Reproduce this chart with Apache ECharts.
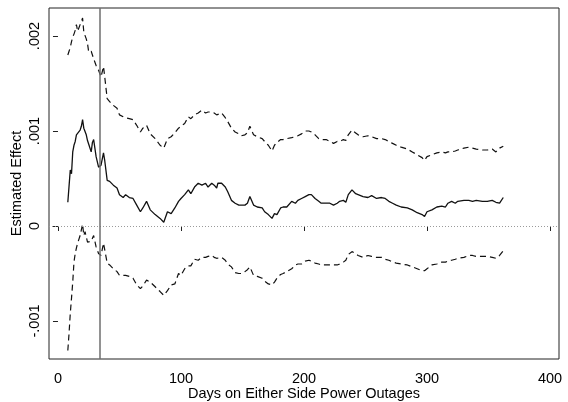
<!DOCTYPE html>
<html>
<head>
<meta charset="utf-8">
<script src="https://cdn.jsdelivr.net/npm/echarts@6/dist/echarts.min.js"></script>
<style>
  html, body { margin: 0; padding: 0; background: #fff; }
  #chart { width: 568px; height: 402px; }
</style>
</head>
<body>
<div id="chart"></div>
<script>
// Days on either side of the outage
const days = [
  8, 9, 10, 11, 12, 13, 14, 15, 16, 18,
  19, 20, 21, 22, 23, 24, 25, 27, 28, 29,
  31, 33, 35, 37, 38, 40, 42, 45, 48, 50,
  53, 55, 58, 61, 64, 67, 69, 72, 75, 79,
  83, 86, 89, 92, 95, 98, 100, 103, 106, 108,
  111, 114, 117, 120, 122, 125, 127, 129, 130, 133,
  136, 138, 141, 144, 147, 149, 152, 154, 156, 159,
  162, 166, 168, 171, 174, 176, 178, 181, 183, 186,
  190, 193, 195, 198, 201, 204, 206, 209, 212, 214,
  218, 221, 224, 227, 229, 232, 234, 236, 239, 242,
  244, 248, 252, 255, 259, 263, 266, 269, 272, 275,
  279, 284, 288, 292, 296, 298, 300, 304, 308, 312,
  315, 317, 320, 323, 325, 330, 334, 337, 340, 345,
  349, 353, 356, 359, 362
];

// Point estimate (thousandths)
const estimate = [
  0.25, 0.42, 0.59, 0.55, 0.78, 0.85, 0.89, 0.96, 0.94, 1.01,
  1.05, 1.12, 1.03, 1.05, 0.96, 0.90, 0.86, 0.78, 0.88, 0.91,
  0.73, 0.62, 0.64, 0.77, 0.69, 0.48, 0.47, 0.43, 0.40, 0.33,
  0.30, 0.33, 0.30, 0.29, 0.22, 0.15, 0.19, 0.26, 0.17, 0.12,
  0.08, 0.04, 0.15, 0.13, 0.19, 0.26, 0.29, 0.33, 0.38, 0.34,
  0.41, 0.45, 0.43, 0.45, 0.41, 0.45, 0.43, 0.40, 0.45, 0.45,
  0.41, 0.36, 0.27, 0.24, 0.22, 0.22, 0.22, 0.24, 0.31, 0.22,
  0.20, 0.19, 0.15, 0.12, 0.08, 0.13, 0.12, 0.19, 0.20, 0.20,
  0.26, 0.24, 0.27, 0.29, 0.31, 0.33, 0.33, 0.29, 0.26, 0.24,
  0.24, 0.24, 0.22, 0.24, 0.26, 0.27, 0.25, 0.33, 0.38, 0.34,
  0.33, 0.31, 0.30, 0.32, 0.29, 0.30, 0.29, 0.26, 0.24, 0.22,
  0.20, 0.19, 0.17, 0.14, 0.12, 0.10, 0.15, 0.17, 0.20, 0.21,
  0.20, 0.24, 0.26, 0.24, 0.26, 0.27, 0.27, 0.26, 0.27, 0.26,
  0.26, 0.27, 0.25, 0.24, 0.30
];

// Upper confidence bound (thousandths)
const upper = [
  1.80, 1.84, 1.88, 1.94, 1.99, 2.02, 2.06, 2.12, 2.05, 2.12,
  2.15, 2.19, 2.04, 2.06, 1.97, 1.92, 1.83, 1.84, 1.80, 1.76,
  1.69, 1.64, 1.57, 1.68, 1.57, 1.34, 1.31, 1.27, 1.24, 1.17,
  1.15, 1.14, 1.13, 1.12, 1.06, 0.99, 1.03, 1.06, 0.97, 0.92,
  0.85, 0.82, 0.92, 0.94, 0.98, 1.03, 1.05, 1.08, 1.15, 1.13,
  1.17, 1.19, 1.22, 1.19, 1.20, 1.20, 1.19, 1.17, 1.19, 1.19,
  1.14, 1.10, 1.03, 0.99, 0.97, 0.95, 0.96, 0.98, 1.05, 0.96,
  0.94, 0.92, 0.89, 0.85, 0.79, 0.85, 0.88, 0.91, 0.91, 0.92,
  0.93, 0.94, 0.95, 0.97, 1.00, 1.00, 0.99, 0.96, 0.92, 0.91,
  0.91, 0.89, 0.87, 0.89, 0.89, 0.91, 0.90, 0.96, 1.01, 0.98,
  0.96, 0.94, 0.95, 0.94, 0.92, 0.92, 0.91, 0.89, 0.87, 0.85,
  0.83, 0.81, 0.78, 0.75, 0.72, 0.69, 0.73, 0.75, 0.77, 0.78,
  0.77, 0.78, 0.78, 0.79, 0.80, 0.82, 0.83, 0.82, 0.81, 0.80,
  0.80, 0.81, 0.78, 0.82, 0.84
];

// Lower confidence bound (thousandths)
const lower = [
  -1.31, -1.13, -0.92, -0.76, -0.59, -0.38, -0.29, -0.23, -0.18, -0.10,
  -0.04, 0.02, -0.10, -0.06, -0.04, -0.17, -0.18, -0.16, -0.13, -0.10,
  -0.22, -0.29, -0.31, -0.18, -0.19, -0.39, -0.41, -0.45, -0.48, -0.52,
  -0.52, -0.52, -0.53, -0.55, -0.62, -0.66, -0.63, -0.57, -0.59, -0.64,
  -0.69, -0.73, -0.68, -0.62, -0.61, -0.50, -0.52, -0.45, -0.42, -0.42,
  -0.35, -0.36, -0.33, -0.33, -0.32, -0.31, -0.33, -0.34, -0.33, -0.33,
  -0.36, -0.40, -0.43, -0.49, -0.50, -0.50, -0.48, -0.46, -0.43, -0.52,
  -0.53, -0.55, -0.58, -0.61, -0.62, -0.59, -0.55, -0.51, -0.50, -0.48,
  -0.45, -0.41, -0.40, -0.40, -0.37, -0.36, -0.37, -0.39, -0.40, -0.41,
  -0.41, -0.41, -0.41, -0.41, -0.40, -0.38, -0.36, -0.30, -0.27, -0.29,
  -0.31, -0.33, -0.31, -0.32, -0.33, -0.33, -0.35, -0.36, -0.38, -0.39,
  -0.40, -0.41, -0.43, -0.45, -0.47, -0.47, -0.45, -0.41, -0.40, -0.38,
  -0.38, -0.37, -0.36, -0.35, -0.34, -0.33, -0.31, -0.31, -0.32, -0.32,
  -0.32, -0.33, -0.34, -0.31, -0.26
];

// Axis ticks
const xTicks = [0, 100, 200, 300, 400];
const yTicks = [-1, 0, 1, 2];
const yTickLabels = ['-.001', '0', '.001', '.002'];

// Reference lines
const cutoffDay = 34;
const zeroLine = 0;

const FONT = 'Liberation Sans, Arial, sans-serif';
const FS = 14.5;
const pairs = (ys) => days.map((d, i) => [d, ys[i]]);

const chart = echarts.init(document.getElementById('chart'), null, { renderer: 'canvas' });

chart.setOption({
  animation: false,
  backgroundColor: '#ffffff',
  grid: {
    left: 49, right: 9, top: 8, bottom: 43,
    containLabel: false,
    outerBoundsMode: 'none',
    show: true, borderColor: '#222', borderWidth: 1, backgroundColor: '#fff'
  },
  xAxis: {
    type: 'value',
    min: -7.3, max: 407.3,
    name: 'Days on Either Side Power Outages',
    nameLocation: 'middle',
    nameGap: 27,
    nameMoveOverlap: false,
    nameTextStyle: { fontFamily: FONT, fontSize: FS, color: '#000' },
    axisLine: { show: false },
    splitLine: { show: false },
    axisTick: { show: true, inside: false, length: 5, customValues: xTicks, lineStyle: { color: '#222', width: 1 } },
    axisLabel: { customValues: xTicks, margin: 12, fontFamily: FONT, fontSize: FS, color: '#000' }
  },
  yAxis: {
    type: 'value',
    min: -1.4, max: 2.295,
    name: 'Estimated Effect',
    nameLocation: 'middle',
    nameGap: 25,
    nameMoveOverlap: false,
    nameRotate: 90,
    nameTextStyle: { fontFamily: FONT, fontSize: FS, color: '#000' },
    axisLine: { show: false },
    splitLine: { show: false },
    axisTick: { show: true, inside: false, length: 5, customValues: yTicks, lineStyle: { color: '#222', width: 1 } },
    axisLabel: {
      customValues: yTicks,
      rotate: 90,
      margin: 7,
      fontFamily: FONT, fontSize: FS, color: '#000',
      formatter: (v) => {
        const i = yTicks.findIndex((t) => Math.abs(t - v) < 1e-9);
        return i >= 0 ? yTickLabels[i] : '';
      }
    }
  },
  series: [
    {
      name: 'Upper bound',
      type: 'line',
      data: pairs(upper),
      showSymbol: false,
      lineStyle: { color: '#111', width: 1.2, type: [6, 4] },
      z: 3
    },
    {
      name: 'Estimate',
      type: 'line',
      data: pairs(estimate),
      showSymbol: false,
      lineStyle: { color: '#111', width: 1.3, type: 'solid' },
      z: 3,
      markLine: {
        silent: true,
        symbol: ['none', 'none'],
        label: { show: false },
        animation: false,
        data: [
          { yAxis: zeroLine, lineStyle: { color: '#9a9a9a', width: 1, type: [1, 2] } },
          { xAxis: cutoffDay, lineStyle: { color: '#6e6e6e', width: 1.5, type: 'solid' } }
        ]
      }
    },
    {
      name: 'Lower bound',
      type: 'line',
      data: pairs(lower),
      showSymbol: false,
      lineStyle: { color: '#111', width: 1.2, type: [6, 4] },
      z: 3
    }
  ]
});
</script>
</body>
</html>
